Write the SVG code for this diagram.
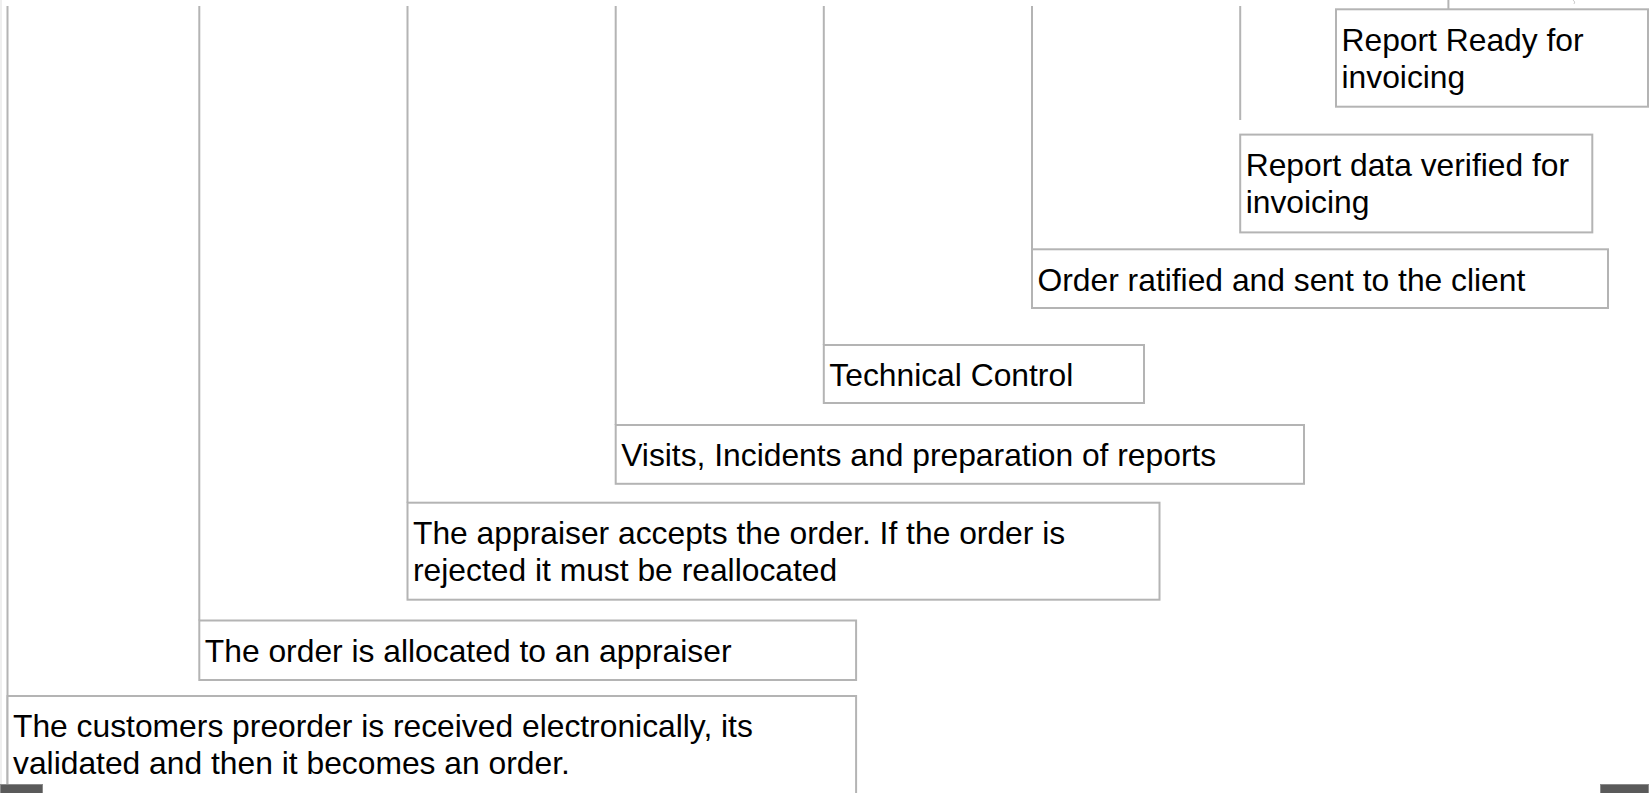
<svg xmlns="http://www.w3.org/2000/svg" width="1649" height="793" viewBox="0 0 1649 793">
<style>
.bg{fill:#ffffff}
.box{fill:#ffffff;stroke:#b4b4b4;stroke-width:2}
.conn{stroke:#b4b4b4;stroke-width:2;fill:none}
.t{font-family:"Liberation Sans",Arial,sans-serif;font-size:31.8px;fill:#000000}
.btn{fill:#5a5a5a;stroke:#8a8a8a;stroke-width:1}
</style>
<rect class="bg" x="0" y="0" width="1649" height="793"/>
<rect x="0" y="0" width="2" height="793" fill="#efefef"/>
<g id="connectors">
<line class="conn" x1="7.5" y1="6" x2="7.5" y2="793"/>
<line class="conn" x1="199.3" y1="6" x2="199.3" y2="620.5"/>
<line class="conn" x1="407.5" y1="6" x2="407.5" y2="502.7"/>
<line class="conn" x1="615.7" y1="6" x2="615.7" y2="425"/>
<line class="conn" x1="823.8" y1="6" x2="823.8" y2="345"/>
<line class="conn" x1="1032" y1="6" x2="1032" y2="249.3"/>
<line class="conn" x1="1240.2" y1="6" x2="1240.2" y2="120"/>
<line class="conn" x1="1448.4" y1="0" x2="1448.4" y2="9.3"/>
<path d="M1573,0 Q1576,2 1574,4" stroke="#cccccc" stroke-width="1" fill="none"/>
</g>
<g id="node-report-ready">
<rect class="box" x="1336" y="9.3" width="312" height="97.4"/>
<text class="t" x="1341.5" y="50.5">Report Ready for</text>
<text class="t" x="1341.5" y="87.5">invoicing</text>
</g>
<g id="node-report-verified">
<rect class="box" x="1240.2" y="134.6" width="352.1" height="97.8"/>
<text class="t" x="1245.7" y="175.8">Report data verified for</text>
<text class="t" x="1245.7" y="212.8">invoicing</text>
</g>
<g id="node-order-ratified">
<rect class="box" x="1032" y="249.3" width="576" height="58.7"/>
<text class="t" x="1037.5" y="290.5">Order ratified and sent to the client</text>
</g>
<g id="node-technical-control">
<rect class="box" x="823.8" y="345" width="320.2" height="58"/>
<text class="t" x="829.3" y="386.2">Technical Control</text>
</g>
<g id="node-visits">
<rect class="box" x="615.7" y="425" width="688.3" height="58.8"/>
<text class="t" x="621.2" y="466.2">Visits, Incidents and preparation of reports</text>
</g>
<g id="node-appraiser-accepts">
<rect class="box" x="407.5" y="502.7" width="752" height="97"/>
<text class="t" x="413" y="544.2">The appraiser accepts the order. If the order is</text>
<text class="t" x="413" y="581.4">rejected it must be reallocated</text>
</g>
<g id="node-allocated">
<rect class="box" x="199.3" y="620.5" width="656.8" height="59.5"/>
<text class="t" x="204.8" y="661.7">The order is allocated to an appraiser</text>
</g>
<g id="node-preorder">
<rect class="box" x="7.5" y="696" width="848.6" height="130"/>
<text class="t" x="13" y="737.2">The customers preorder is received electronically, its</text>
<text class="t" x="13" y="774.4">validated and then it becomes an order.</text>
</g>
<rect class="btn" x="0.5" y="784.5" width="42" height="10"/>
<rect class="btn" x="1600.5" y="784.5" width="48" height="10"/>
</svg>
